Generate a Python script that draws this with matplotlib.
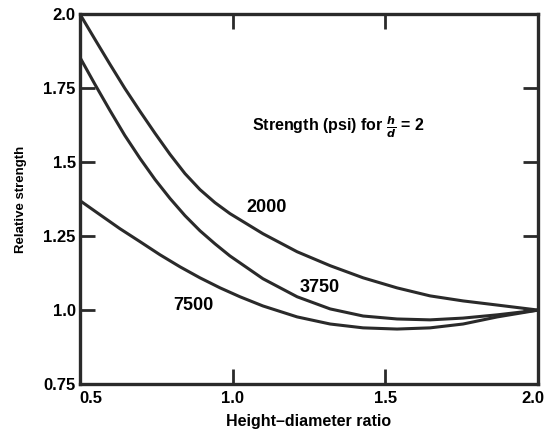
import matplotlib.pyplot as plt
import matplotlib.transforms as mtransforms
import numpy as np

# height-diameter ratio vs relative strength
x_2000 = [0.500, 0.549, 0.598, 0.647, 0.697, 0.746, 0.795, 0.844, 0.893, 0.942, 0.991,
          1.099, 1.211, 1.319, 1.427, 1.538, 1.646, 1.754, 1.866, 2.0]
y_2000 = [2.0, 1.915, 1.831, 1.749, 1.671, 1.597, 1.526, 1.461, 1.407, 1.363, 1.326,
          1.258, 1.197, 1.150, 1.109, 1.075, 1.048, 1.031, 1.017, 1.0]

x_3750 = [0.500, 0.549, 0.598, 0.647, 0.697, 0.746, 0.795, 0.844, 0.893, 0.942, 0.991,
          1.099, 1.211, 1.319, 1.427, 1.538, 1.646, 1.754, 1.866, 2.0]
y_3750 = [1.854, 1.763, 1.675, 1.590, 1.512, 1.441, 1.377, 1.319, 1.268, 1.224, 1.183,
          1.106, 1.045, 1.004, 0.980, 0.970, 0.967, 0.973, 0.984, 1.0]

x_7500 = [0.500, 0.566, 0.631, 0.697, 0.762, 0.828, 0.893, 0.959, 1.024,
          1.099, 1.211, 1.319, 1.427, 1.538, 1.646, 1.754, 1.866, 2.0]
y_7500 = [1.370, 1.322, 1.275, 1.231, 1.187, 1.146, 1.109, 1.075, 1.045,
          1.014, 0.977, 0.953, 0.940, 0.936, 0.940, 0.953, 0.977, 1.0]

xticks = [0.5, 1.0, 1.5, 2.0]
xlabels = ["0.5", "1.0", "1.5", "2.0"]
yticks = [0.75, 1.0, 1.25, 1.5, 1.75, 2.0]
ylabels = ["0.75", "1.0", "1.25", "1.5", "1.75", "2.0"]

plt.rcParams['font.family'] = ['Liberation Sans', 'DejaVu Sans']
plt.rcParams['font.weight'] = 'bold'

fig = plt.figure(figsize=(5.47, 4.37), dpi=100)
ax = fig.add_axes([0.146, 0.121, 0.838, 0.847])

col = '#2a2a2a'
lw = 2.2
ax.plot(x_2000, y_2000, color=col, lw=lw, solid_capstyle='round')
ax.plot(x_3750, y_3750, color=col, lw=lw, solid_capstyle='round')
ax.plot(x_7500, y_7500, color=col, lw=lw, solid_capstyle='round')

ax.set_xlim(0.5, 2.0)
ax.set_ylim(0.75, 2.0)
ax.set_xticks(xticks)
ax.set_xticklabels(xlabels, fontsize=12, fontweight='bold')
ax.set_yticks(yticks)
ax.set_yticklabels(ylabels, fontsize=12, fontweight='bold')
ax.tick_params(direction='in', length=10.5, width=2, color=col,
               top=True, right=True)
ax.tick_params(axis='y', pad=3)
ax.tick_params(axis='x', pad=5)
for s in ax.spines.values():
    s.set_linewidth(2.4)
    s.set_color(col)

# end labels sit a bit inward like on the scan
xl = ax.get_xticklabels()
xl[0].set_transform(xl[0].get_transform() + mtransforms.ScaledTranslation(8/72, 0, fig.dpi_scale_trans))
xl[-1].set_transform(xl[-1].get_transform() + mtransforms.ScaledTranslation(-4/72, 0, fig.dpi_scale_trans))

ax.text(1.112, 1.346, "2000", fontsize=13, fontweight='bold', ha='center', va='center')
ax.text(1.286, 1.075, "3750", fontsize=13, fontweight='bold', ha='center', va='center')
ax.text(0.87, 1.014, "7500", fontsize=13, fontweight='bold', ha='center', va='center')
ax.text(1.345, 1.617, r"Strength (psi) for $\mathbf{\frac{\mathit{h}}{\mathit{d}}}$ = 2",
        fontsize=11.5, fontweight='bold', ha='center', va='center')

ax.set_xlabel("Height\u2013diameter ratio", fontsize=11.5, fontweight='bold', labelpad=6)
ax.set_ylabel("Relative strength", fontsize=9.5, fontweight='bold', labelpad=12)

fig.savefig("out.png", dpi=100)
